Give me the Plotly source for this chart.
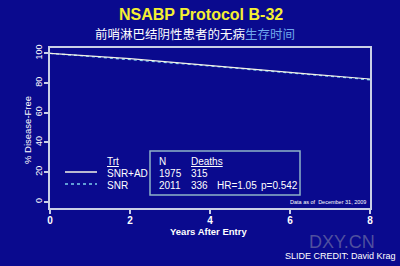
import plotly.graph_objects as go

# Data
years = [0, 0.5, 1, 1.5, 2, 2.5, 3, 3.5, 4, 4.5, 5, 5.5, 6, 6.5, 7, 7.5, 8]
snr_ad = [100, 99.2, 98.3, 97.4, 96.4, 95.3, 94.2, 93.1, 92.0, 90.8, 89.6, 88.4, 87.2, 86.0, 84.9, 83.8, 82.7]
snr = [100, 99.0, 98.0, 97.0, 96.0, 94.9, 93.8, 92.6, 91.5, 90.3, 89.1, 87.9, 86.7, 85.5, 84.4, 83.3, 82.2]
x_ticks = [0, 2, 4, 6, 8]
y_ticks = [0, 20, 40, 60, 80, 100]
table_rows = [["Trt", "N", "Deaths"], ["SNR+AD", "1975", "315"], ["SNR", "2011", "336"]]
stats_text = ["HR=1.05", "p=0.542"]

BG = "#0a0a8e"
LINE = "#c9cfe6"
FONT = "Liberation Sans, Arial, sans-serif"

fig = go.Figure()
fig.add_trace(go.Scatter(x=years, y=snr, mode="lines",
                         line=dict(color="#7ed0f0", width=1.3, dash="dot"), showlegend=False))
fig.add_trace(go.Scatter(x=years, y=snr_ad, mode="lines",
                         line=dict(color="#f4f4e6", width=1.2), showlegend=False))

fig.update_layout(
    width=400, height=266,
    margin=dict(l=50, r=30, t=48, b=58),
    paper_bgcolor=BG, plot_bgcolor=BG,
    font=dict(family=FONT, color="white"),
    showlegend=False,
)
fig.update_xaxes(range=[0, 8], tickvals=x_ticks, showgrid=False, zeroline=False,
                 showline=True, linecolor=LINE, linewidth=1.5, mirror=True,
                 ticks="outside", ticklen=4, tickcolor=LINE, tickwidth=1.5,
                 ticklabelstandoff=-2,
                 tickfont=dict(family=FONT, size=10, color="white", weight="bold"))
fig.update_yaxes(range=[-4.2, 103.6], tickvals=y_ticks, showgrid=False, zeroline=False,
                 showline=True, linecolor=LINE, linewidth=1.5, mirror=True,
                 ticks="outside", ticklen=4, tickcolor=LINE, tickwidth=1.5,
                 ticklabelstandoff=-1,
                 tickangle=-90, tickfont=dict(family=FONT, size=9, color="white"))

ann = []
def A(text, x, y, size, xanchor="left", color="white", bold=False, angle=0, family=FONT):
    ann.append(dict(text=text, x=x, y=y, xref="paper", yref="paper", showarrow=False,
                    xanchor=xanchor, yanchor="middle", textangle=angle,
                    font=dict(family=family, size=size, color=color,
                              weight="bold" if bold else "normal")))

def px(x):
    return (x - 50) / 320
def py(y):
    return (208 - y) / 160

# Titles
A("NSABP Protocol B-32", px(201), py(15), 16, xanchor="center", color="#f5f032", bold=True)
ann.append(dict(text="前哨淋巴结阴性患者的无病<span style='color:#6fa8ec'>生存时间</span>",
                x=px(195), y=py(33), xref="paper", yref="paper", showarrow=False,
                xanchor="center", yanchor="middle",
                font=dict(family="Noto Sans CJK SC", size=12.5, color="white")))
A("% Disease-Free", px(27), py(130), 9.5, xanchor="center", angle=-90)
A("Years After Entry", px(208), py(231), 9.5, xanchor="center", bold=True)

# Legend / table text
TS = 10
A("<u>" + table_rows[0][0] + "</u>", px(105), py(161), TS)
A(table_rows[1][0], px(105), py(173), TS)
A(table_rows[2][0], px(105), py(185), TS)
A(table_rows[0][1], px(157), py(161), TS)
A("<u>" + table_rows[0][2] + "</u>", px(189), py(161), TS)
A(table_rows[1][1], px(157), py(173), TS)
A(table_rows[1][2], px(189), py(173), TS)
A(table_rows[2][1], px(157), py(185), TS)
A(table_rows[2][2], px(189), py(185), TS)
A(stats_text[0], px(215), py(185), TS)
A(stats_text[1], px(259), py(185), TS)

A("Data as of  December 31, 2009", px(328), py(202), 5.5, xanchor="center")
A("DXY.CN", px(342), py(242), 18, xanchor="center", color="rgba(150,150,175,0.5)")
A("SLIDE CREDIT: David Krag", px(398), py(256), 9, xanchor="right")

fig.update_layout(annotations=ann)

shapes = [
    dict(type="line", xref="paper", yref="paper", x0=px(65), x1=px(97), y0=py(172), y1=py(172),
         line=dict(color="#f4f4e6", width=1.5)),
    dict(type="line", xref="paper", yref="paper", x0=px(65), x1=px(97), y0=py(184), y1=py(184),
         line=dict(color="#7ed0f0", width=1.3, dash="dot")),
    dict(type="rect", xref="paper", yref="paper", x0=px(150), x1=px(300), y0=py(195), y1=py(151),
         line=dict(color="#8fb4c8", width=1.5)),
]
fig.update_layout(shapes=shapes)

fig.write_html("out.html")
